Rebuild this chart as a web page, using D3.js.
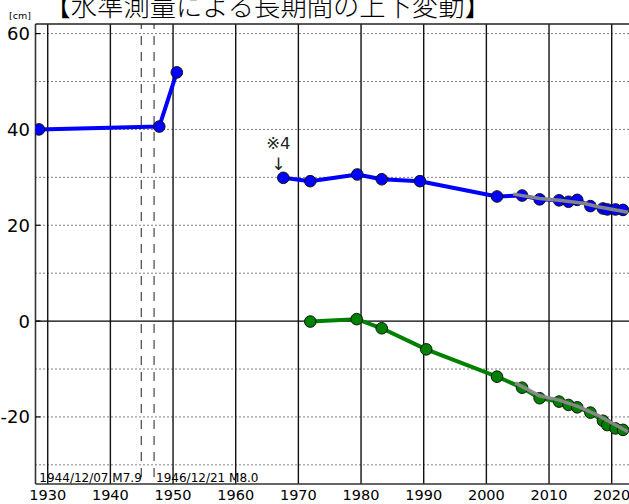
<!DOCTYPE html>
<html><head><meta charset="utf-8">
<script src="https://cdn.jsdelivr.net/npm/d3@7"></script>
<style>html,body{margin:0;padding:0;background:#fff;overflow:hidden}</style>
</head><body>
<script>
const title = "【水準測量による長期間の上下変動】";
const unitLabel = "[cm]";
const yTickValues = [60, 40, 20, 0, -20];
const yGridValues = [-30, -20, -10, 10, 20, 30, 40, 50, 60];
const xTickValues = [1930, 1940, 1950, 1960, 1970, 1980, 1990, 2000, 2010, 2020];
const quakeYears = [1944.93, 1946.97];
const quakeLabels = ["1944/12/07 M7.9", "1946/12/21 M8.0"];

const blueEarlyYears = [1928.6, 1947.8, 1950.6];
const blueEarlyValues = [40.0, 40.6, 51.9];
const blueYears = [1967.6, 1971.9, 1979.4, 1983.3, 1989.4, 2001.7, 2005.7, 2008.5, 2011.6, 2013.1, 2014.5, 2016.6, 2018.6, 2019.3, 2020.6, 2021.8];
const blueValues = [29.9, 29.2, 30.6, 29.6, 29.2, 26.0, 26.2, 25.4, 25.2, 24.9, 25.3, 24.0, 23.5, 23.3, 23.3, 23.2];
const greenYears = [1971.9, 1979.3, 1983.3, 1990.4, 2001.7, 2005.7, 2008.5, 2011.6, 2013.1, 2014.5, 2016.6, 2018.6, 2019.3, 2020.6, 2021.8];
const greenValues = [-0.1, 0.4, -1.5, -5.9, -11.6, -13.9, -16.1, -16.8, -17.5, -18.0, -19.1, -20.8, -21.7, -22.4, -22.7];
const grayBlueYears = [2004.3, 2008.5, 2011.6, 2015.5, 2018.0, 2022.6];
const grayBlueValues = [26.5, 25.6, 25.2, 24.6, 23.8, 22.7];
const grayGreenYears = [2004.6, 2008.5, 2011.6, 2014.8, 2018.0, 2022.6];
const grayGreenValues = [-12.9, -15.6, -16.5, -17.9, -19.8, -23.1];
const noteText = "※4";
const noteArrow = "↓";
const noteYear = 1967.6;

const W = 629, H = 504;
const pL = 35.5, pR = 630.5, pT = 24, pB = 484;
const x = d3.scaleLinear().domain([1928.05, 2023]).range([pL, pR]);
const y = d3.scaleLinear().domain([-34, 62]).range([pB, pT]);

const svg = d3.select("body").append("svg").attr("width", W).attr("height", H)
  .style("font-family", "'DejaVu Sans', sans-serif");
svg.append("rect").attr("width", W).attr("height", H).attr("fill", "#fff");

svg.append("defs").append("clipPath").attr("id", "clip")
  .append("rect").attr("x", pL).attr("y", pT).attr("width", pR - pL).attr("height", pB - pT);

const grid = svg.append("g");
grid.selectAll(".hg").data(yGridValues).join("line")
  .attr("x1", pL).attr("x2", pR).attr("y1", d => y(d)).attr("y2", d => y(d))
  .attr("stroke", "#000").attr("stroke-width", 1).attr("stroke-dasharray", "1,3");
grid.append("line").attr("x1", pL).attr("x2", pR).attr("y1", y(0)).attr("y2", y(0))
  .attr("stroke", "#000").attr("stroke-width", 1.2);
grid.selectAll(".vg").data(xTickValues).join("line")
  .attr("x1", d => x(d)).attr("x2", d => x(d)).attr("y1", pT).attr("y2", pB)
  .attr("stroke", "#111").attr("stroke-width", 1.4);
grid.selectAll(".qk").data(quakeYears).join("line")
  .attr("x1", d => x(d)).attr("x2", d => x(d)).attr("y1", pT).attr("y2", pB)
  .attr("stroke", "#444").attr("stroke-width", 1.2).attr("stroke-dasharray", "9,7").attr("stroke-dashoffset", 4);

// frame
svg.append("line").attr("x1", pL).attr("x2", pL).attr("y1", pT).attr("y2", pB).attr("stroke", "#333").attr("stroke-width", 1.6);
svg.append("line").attr("x1", pL).attr("x2", pR).attr("y1", pT).attr("y2", pT).attr("stroke", "#222").attr("stroke-width", 1.3);
svg.append("line").attr("x1", pL).attr("x2", pR).attr("y1", pB).attr("y2", pB).attr("stroke", "#333").attr("stroke-width", 1.6);

// y ticks
svg.selectAll(".yt").data(yTickValues).join("line")
  .attr("x1", pL).attr("x2", pL + 5).attr("y1", d => y(d)).attr("y2", d => y(d))
  .attr("stroke", "#000").attr("stroke-width", 1.2);
svg.selectAll(".yl").data(yTickValues).join("text")
  .attr("x", 30).attr("y", d => y(d)).attr("dy", "0.36em").attr("text-anchor", "end")
  .attr("font-size", 18).attr("fill", "#000").text(d => d);
svg.selectAll(".xl").data(xTickValues).join("text")
  .attr("x", d => x(d)).attr("y", 500).attr("text-anchor", "middle")
  .attr("font-size", 14.5).attr("fill", "#000").text(d => d);

svg.append("text").attr("x", 9).attr("y", 19).attr("font-size", 9.5).attr("fill", "#000").text(unitLabel);
svg.append("text").attr("x", 44.5).attr("y", 16).attr("font-size", 26.3)
  .style("font-family", "'Noto Sans CJK JP', sans-serif").attr("font-weight", 300).attr("fill", "#000").text(title);

svg.append("text").attr("x", x(quakeYears[0]) + 0.5).attr("y", 482).attr("text-anchor", "end")
  .attr("font-size", 12).attr("fill", "#000").text(quakeLabels[0]);
svg.append("text").attr("x", x(quakeYears[1]) + 2).attr("y", 482).attr("text-anchor", "start")
  .attr("font-size", 12).attr("fill", "#000").text(quakeLabels[1]);

// data
const plot = svg.append("g").attr("clip-path", "url(#clip)");
const line = d3.line().x(d => x(d[0])).y(d => y(d[1]));
const zip = (a, b) => a.map((v, i) => [v, b[i]]);

function series(yrs, vals, color) {
  const data = zip(yrs, vals);
  plot.append("path").datum(data).attr("d", line).attr("fill", "none")
    .attr("stroke", color).attr("stroke-width", 4).attr("stroke-linejoin", "round");
  return data;
}
const be = series(blueEarlyYears, blueEarlyValues, "#0000ff");
const bl = series(blueYears, blueValues, "#0000ff");
const gr = series(greenYears, greenValues, "#008000");

function markers(data, color) {
  plot.selectAll(null).data(data).join("circle")
    .attr("cx", d => x(d[0])).attr("cy", d => y(d[1])).attr("r", 5.8)
    .attr("fill", color).attr("stroke", "#111").attr("stroke-width", 1);
}
markers(be, "#0000ff");
markers(bl, "#0000ff");
markers(gr, "#008000");

[[grayBlueYears, grayBlueValues], [grayGreenYears, grayGreenValues]].forEach(([a, b]) => {
  plot.append("path").datum(zip(a, b)).attr("d", line).attr("fill", "none")
    .attr("stroke", "#8a8a8a").attr("stroke-width", 3.5).attr("stroke-opacity", 0.95)
    .attr("stroke-linejoin", "round");
});

svg.append("text").attr("x", x(noteYear) - 5).attr("y", 149).attr("text-anchor", "middle")
  .attr("font-size", 16.5).attr("fill", "#222").text(noteText);
svg.append("text").attr("x", x(noteYear) - 5).attr("y", 170).attr("text-anchor", "middle")
  .attr("font-size", 17).attr("fill", "#222").text(noteArrow);
</script>
</body></html>
